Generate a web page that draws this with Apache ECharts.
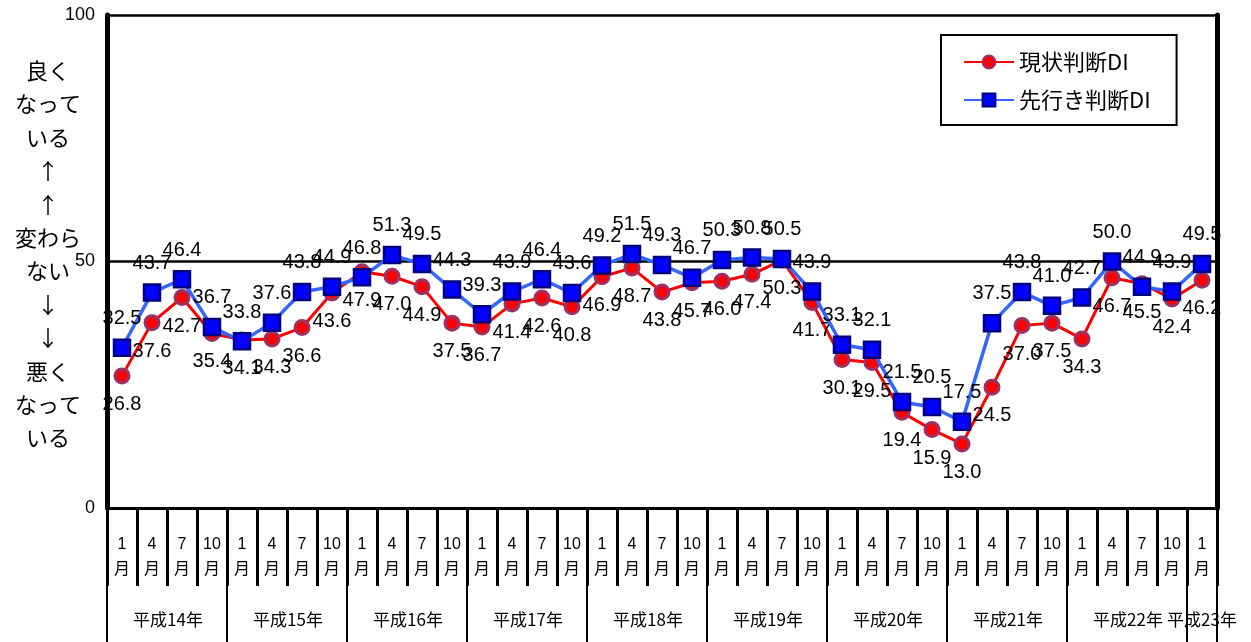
<!DOCTYPE html>
<html>
<head>
<meta charset="utf-8">
<script src="https://cdn.jsdelivr.net/npm/echarts@6/dist/echarts.min.js"></script>
<style>
  html, body { margin: 0; padding: 0; background: #fff; }
  #chart { width: 1251px; height: 642px; }
</style>
</head>
<body>
<div id="chart"></div>
<script>
// 年・月
const years = ['平成14年', '平成15年', '平成16年', '平成17年', '平成18年', '平成19年', '平成20年', '平成21年', '平成22年', '平成23年'];
const months = ['1', '4', '7', '10'];
// 現状判断DI
const currentDI = [
  26.8, 37.6, 42.7, 35.4,
  34.1, 34.3, 36.6, 43.6,
  47.9, 47.0, 44.9, 37.5,
  36.7, 41.4, 42.6, 40.8,
  46.9, 48.7, 43.8, 45.7,
  46.0, 47.4, 50.3, 41.7,
  30.1, 29.5, 19.4, 15.9,
  13.0, 24.5, 37.0, 37.5,
  34.3, 46.7, 45.5, 42.4,
  46.2
];
// 先行き判断DI
const outlookDI = [
  32.5, 43.7, 46.4, 36.7,
  33.8, 37.6, 43.8, 44.9,
  46.8, 51.3, 49.5, 44.3,
  39.3, 43.9, 46.4, 43.6,
  49.2, 51.5, 49.3, 46.7,
  50.3, 50.8, 50.5, 43.9,
  33.1, 32.1, 21.5, 20.5,
  17.5, 37.5, 43.8, 41.0,
  42.7, 50.0, 44.9, 43.9,
  49.5
];
const yTicks = [0, 50, 100];
const sideText = ['良く', 'なって', 'いる', '↑', '↑', '変わら', 'ない', '↓', '↓', '悪く', 'なって', 'いる'];

// カテゴリ（37四半期）
const categories = [];
const yearOfCat = [];
years.forEach((y, yi) => {
  months.forEach((m) => {
    if (yi === years.length - 1 && m !== '1') return;
    categories.push(m + '月');
    yearOfCat.push(yi);
  });
});

const FONT = 'Liberation Sans, Noto Sans CJK JP, sans-serif';
const JP = 'Noto Sans CJK JP, sans-serif';
const chart = echarts.init(document.getElementById('chart'));

const option = {
  animation: false,
  backgroundColor: '#fff',
  textStyle: { fontFamily: FONT, color: '#000' },
  grid: { left: 107, right: 34, top: 15, bottom: 134 },
  legend: {
    orient: 'vertical',
    left: 941,
    top: 35,
    borderColor: '#000',
    borderWidth: 2,
    padding: [16, 26, 14, 22],
    itemWidth: 50,
    itemHeight: 16,
    itemGap: 16,
    textStyle: { fontSize: 22, color: '#000', fontFamily: JP },
    data: ['現状判断DI', '先行き判断DI']
  },
  xAxis: [
    {
      type: 'category',
      data: categories,
      position: 'bottom',
      axisLine: { show: true, lineStyle: { color: '#000', width: 3 } },
      axisTick: { show: true, interval: 0, length: 78, lineStyle: { color: '#000', width: 3 } },
      axisLabel: {
        interval: 0,
        margin: 24,
        fontSize: 16,
        lineHeight: 25,
        color: '#000',
        fontFamily: FONT,
        formatter: (v) => v.replace('月', '') + '\n月'
      },
      splitLine: { show: false }
    },
    {
      type: 'category',
      data: categories,
      position: 'bottom',
      axisLine: { show: false },
      axisTick: {
        show: true,
        interval: (i) => i % 4 === 0,
        length: 134,
        lineStyle: { color: '#000', width: 2 }
      },
      axisLabel: {
        interval: 0,
        margin: 103,
        color: '#000',
        formatter: (v, i) => {
          if (i === categories.length - 1) return '{b|' + years[yearOfCat[i]] + '}';
          if (i % 4 === 1) return '{a|' + years[yearOfCat[i]] + '}';
          return '';
        },
        rich: {
          a: { fontSize: 17, padding: [0, 0, 0, 32], fontFamily: JP, color: '#000' },
          b: { fontSize: 17, fontFamily: JP, color: '#000' }
        }
      },
      splitLine: { show: false }
    }
  ],
  yAxis: [
    {
      type: 'value',
      min: 0,
      max: 100,
      interval: 50,
      axisLine: { show: true, lineStyle: { color: '#000', width: 5 } },
      axisTick: { show: false },
      axisLabel: {
        margin: 12,
        fontSize: 18,
        color: '#000',
        formatter: (v) => (yTicks.indexOf(v) >= 0 ? String(v) : '')
      },
      splitLine: { show: true, lineStyle: { color: '#000', width: 2.5 } }
    },
    {
      type: 'value',
      min: 0,
      max: 100,
      interval: 50,
      position: 'right',
      axisLine: { show: true, lineStyle: { color: '#000', width: 5 } },
      axisTick: { show: false },
      axisLabel: { show: false },
      splitLine: { show: false }
    }
  ],
  series: [
    {
      name: '現状判断DI',
      type: 'line',
      data: currentDI,
      symbol: 'circle',
      symbolSize: 14,
      lineStyle: { color: '#ff0000', width: 3 },
      itemStyle: { color: '#ff0000', borderColor: '#993366', borderWidth: 3 },
      label: {
        show: true,
        position: 'bottom',
        distance: 10,
        fontSize: 20,
        color: '#000',
        fontFamily: FONT,
        formatter: (p) => p.value.toFixed(1)
      },
      z: 2
    },
    {
      name: '先行き判断DI',
      type: 'line',
      data: outlookDI,
      symbol: 'rect',
      symbolSize: 16,
      lineStyle: { color: '#3366ff', width: 3.5 },
      itemStyle: { color: '#0000ff', borderColor: '#000080', borderWidth: 2.5 },
      label: {
        show: true,
        position: 'top',
        distance: 10,
        fontSize: 20,
        color: '#000',
        fontFamily: FONT,
        formatter: (p) => p.value.toFixed(1)
      },
      z: 3
    }
  ],
  graphic: [
    {
      type: 'text',
      style: {
        x: 48,
        y: 54,
        text: sideText.join('\n'),
        lineHeight: 33.4,
        textAlign: 'center',
        fill: '#000',
        font: '22px "Noto Sans CJK JP", sans-serif'
      }
    }
  ]
};

chart.setOption(option);
</script>
</body>
</html>
